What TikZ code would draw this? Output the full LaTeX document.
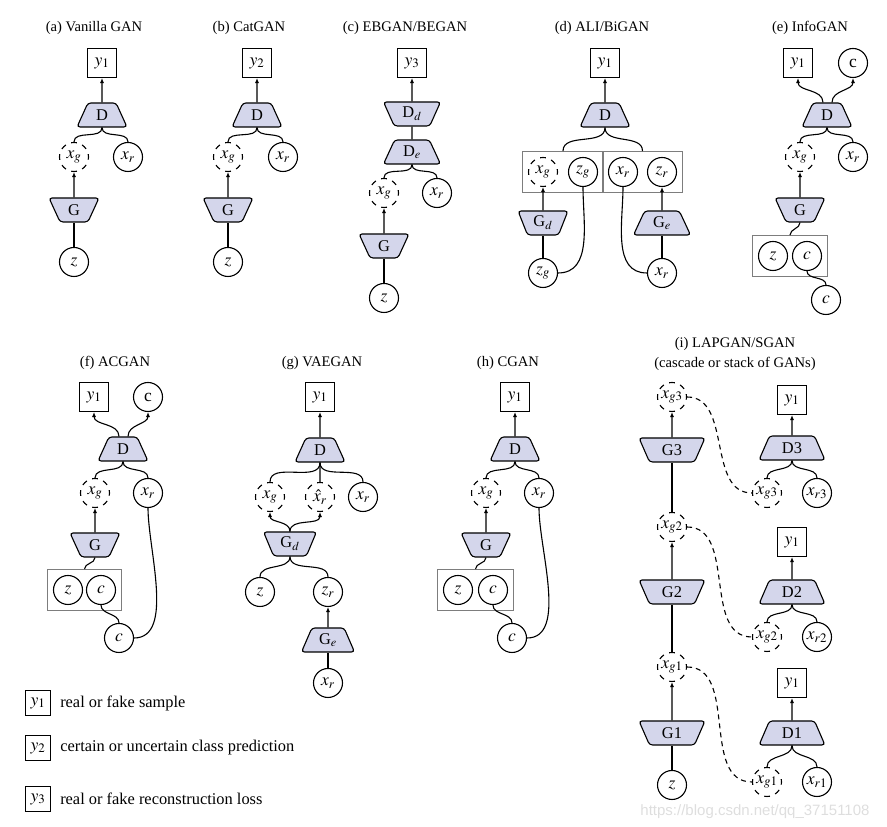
\documentclass[tikz,border=0pt]{standalone}
\usepackage{mathptmx}
\usepackage{fontspec}
\setmainfont{Liberation Serif}
\setsansfont{Liberation Sans}
\usetikzlibrary{shapes.geometric,arrows.meta,fit,positioning}

\definecolor{netfill}{RGB}{212,214,235}
\definecolor{grpgray}{RGB}{125,125,125}
\newcommand{\netfont}{\fontsize{16.4}{19}\selectfont}
\newcommand{\varfont}{\fontsize{17.5}{20}\selectfont}
\newcommand{\ttlfont}{\fontsize{14.6}{20}\selectfont}
\newcommand{\legfont}{\fontsize{16.4}{19}\selectfont}

\tikzset{
  var/.style={draw, circle, minimum size=29pt, inner sep=0pt, line width=1.1pt, font=\varfont},
  fake/.style={var, dash pattern=on 5.7pt off 5.69pt, dash phase=2.85pt},
  outbox/.style={draw, rectangle, minimum size=29pt, inner sep=0pt, line width=1.1pt, font=\varfont},
  disc/.style={draw, trapezium, trapezium left angle=67, trapezium right angle=67,
    trapezium stretches=true, minimum width=50pt, minimum height=24pt,
    fill=netfill, rounded corners=3pt, line width=1.1pt, inner sep=0pt, font=\netfont},
  gen/.style={disc, shape border rotate=180},
  grp/.style={draw=grpgray, rectangle, inner sep=5.5pt, line width=0.8pt},
  ttl/.style={font=\ttlfont, align=center},
  legtxt/.style={font=\legfont, inner sep=0pt},
  link/.style={line width=1.1pt},
  cascade/.style={link, dash pattern=on 5pt off 4pt},
}

\begin{document}
\fontsize{14.6}{17}\selectfont
\begin{tikzpicture}[x=1pt, y=1pt, >={Latex[length=5pt,width=4pt]}, font=\fontsize{14.6}{17}\selectfont]
        \useasboundingbox (0,0) rectangle (887,827);

        % (a)
        \node[ttl] (ta) at (94,799) {(a) Vanilla GAN};
        \node[outbox] (ya) at (102,764) {$y_1$};
        \node[disc] (Da) at (102,712) {D};
        \node[fake] (xga) at (74,670) {$x_g$};
        \node[var] (xra) at (128,670) {$x_r$};
        \node[gen] (Ga) at (74,617) {G};
        \node[var] (za) at (74,565) {$z$};

        \draw[link, ->] (Da) -- (ya);
        \draw[link] (Da.south) to[out=-90, in=90] (xga.north);
        \draw[link] (Da.south) to[out=-90, in=90] (xra.north);
        \draw[link, ->] (Ga) -- (xga);
        \draw[link] (za) -- (Ga);

        % (b)
        \node[ttl] (tb) at (249,799) {(b) CatGAN};
        \node[outbox] (yb) at (257,764) {$y_2$};
        \node[disc] (Db) at (257,712) {D};
        \node[fake] (xgb) at (228,670) {$x_g$};
        \node[var] (xrb) at (283,670) {$x_r$};
        \node[gen] (Gb) at (228,617) {G};
        \node[var] (zb) at (228,565) {$z$};

        \draw[link, ->] (Db) -- (yb);
        \draw[link] (Db.south) to[out=-90, in=90] (xgb.north);
        \draw[link] (Db.south) to[out=-90, in=90] (xrb.north);
        \draw[link, ->] (Gb) -- (xgb);
        \draw[link] (zb) -- (Gb);

        % (c)
        \node[ttl] (tc) at (405,799) {(c) EBGAN/BEGAN};
        \node[outbox] (yc) at (412,764) {$y_3$};
        \node[gen, minimum width=57pt] (Ddc) at (412,713) {D$_d$};
        \node[disc, minimum width=57pt] (Dec) at (412,675) {D$_e$};
        \node[fake] (xgc) at (384,634) {$x_g$};
        \node[var] (xrc) at (437,634) {$x_r$};
        \node[gen] (Gc) at (384,581) {G};
        \node[var] (zc) at (384,529) {$z$};

        \draw[link, ->] (Ddc) -- (yc);
        \draw[link] (Dec) -- (Ddc);
        \draw[link] (Dec.south) to[out=-90, in=90] (xgc.north);
        \draw[link] (Dec.south) to[out=-90, in=90] (xrc.north);
        \draw[link, ->] (Gc) -- (xgc);
        \draw[link] (zc) -- (Gc);

        % (d)
        \node[ttl] (td) at (602,799) {(d) ALI/BiGAN};
        \node[outbox] (yd) at (605,764) {$y_1$};
        \node[disc] (Dd) at (605,712) {D};
        \node[fake] (xgd) at (543,655) {$x_g$};
        \node[var] (zgd) at (583,655) {$z_g$};
        \node[var] (xrd) at (623,655) {$x_r$};
        \node[var] (zrd) at (662,655) {$z_r$};
        \node[grp, fit=(xgd)(zgd)] (pgd) {};
        \node[grp, fit=(xrd)(zrd)] (prd) {};
        \node[gen] (Gdd) at (543,604) {G$_d$};
        \node[var] (zgo) at (543,554) {$z_g$};
        \node[disc, minimum width=57pt] (Ged) at (662,604) {G$_e$};
        \node[var] (xro) at (662,554) {$x_r$};

        \draw[link, ->] (Dd) -- (yd);
        \draw[link] (Dd.south) to[out=-90, in=90] (pgd.north);
        \draw[link] (Dd.south) to[out=-90, in=90] (prd.north);
        \draw[link, ->] (Gdd) -- (xgd);
        \draw[link] (zgo) -- (Gdd);
        \draw[link] (zgo.east) to[out=0, in=-90] (zgd.south);
        \draw[link, ->] (Ged) -- (zrd);
        \draw[link] (xro) -- (Ged);
        \draw[link] (xro.west) to[out=180, in=-90] (xrd.south);

        % (e)
        \node[ttl] (te) at (810,799) {(e) InfoGAN};
        \node[outbox] (ye) at (798,764) {$y_1$};
        \node[var] (ce) at (853,764) {c};
        \node[disc] (De) at (827,712) {D};
        \node[fake] (xge) at (800,670) {$x_g$};
        \node[var] (xre) at (853,670) {$x_r$};
        \node[gen] (Ge) at (800,617) {G};
        \node[var] (ze) at (773,571) {$z$};
        \node[var] (cie) at (807,571) {$c$};
        \node[grp, fit=(ze)(cie)] (pe) {};
        \node[var] (coe) at (826,527) {$c$};

        \draw[link, ->] ([xshift=-4pt]De.north) to[out=90, in=-90] (ye.south);
        \draw[link, ->] ([xshift=5pt]De.north) to[out=90, in=-90] (ce.south);
        \draw[link] (De.south) to[out=-90, in=90] (xge.north);
        \draw[link] (De.south) to[out=-90, in=90] (xre.north);
        \draw[link, ->] (Ge) -- (xge);
        \draw[link] (Ge.south) to[out=-90, in=90] (pe.north);
        \draw[link] (cie.south) to[out=-90, in=90] (coe.north);

        % (f)
        \node[ttl] (tf) at (115,464) {(f) ACGAN};
        \node[outbox] (yf) at (94,430) {$y_1$};
        \node[var] (cf) at (148,430) {c};
        \node[disc] (Df) at (123,378) {D};
        \node[fake] (xgf) at (95,334) {$x_g$};
        \node[var] (xrf) at (148,334) {$x_r$};
        \node[gen] (Gf) at (95,282) {G};
        \node[var] (zf) at (68,237) {$z$};
        \node[var] (cif) at (101,237) {$c$};
        \node[grp, fit=(zf)(cif)] (pf) {};
        \node[var] (cof) at (119,189) {$c$};

        \draw[link, ->] ([xshift=-4pt]Df.north) to[out=90, in=-90] (yf.south);
        \draw[link, ->] ([xshift=5pt]Df.north) to[out=90, in=-90] (cf.south);
        \draw[link] (Df.south) to[out=-90, in=90] (xgf.north);
        \draw[link] (Df.south) to[out=-90, in=90] (xrf.north);
        \draw[link, ->] (Gf) -- (xgf);
        \draw[link] (Gf.south) to[out=-90, in=90] (pf.north);
        \draw[link] (cif.south) to[out=-90, in=90] (cof.north);
        \draw[link] (xrf.south) to[out=-90, in=0, looseness=0.8] (cof.east);

        % (g)
        \node[ttl] (tg) at (322,464) {(g) VAEGAN};
        \node[outbox] (yg) at (320,430) {$y_1$};
        \node[disc] (Dg) at (320,377) {D};
        \node[fake] (xgg) at (270,330) {$x_g$};
        \node[fake] (xhg) at (320,330) {$\hat{x}_r$};
        \node[var] (xrg) at (363,330) {$x_r$};
        \node[gen, minimum width=53pt] (Gdg) at (290,283) {G$_d$};
        \node[var] (zg) at (260,235) {$z$};
        \node[var] (zrg) at (328,235) {$z_r$};
        \node[disc, minimum width=53pt] (Geg) at (328,187) {G$_e$};
        \node[var] (xrog) at (328,144) {$x_r$};

        \draw[link, ->] (Dg) -- (yg);
        \draw[link] (Dg.south) to[out=-90, in=90] (xgg.north);
        \draw[link] (Dg.south) to[out=-90, in=90] (xhg.north);
        \draw[link] (Dg.south) to[out=-90, in=90] (xrg.north);
        \draw[link, ->] (Gdg.north) to[out=90, in=-90] (xgg.south);
        \draw[link, ->] (Gdg.north) to[out=90, in=-90] (xhg.south);
        \draw[link] (Gdg.south) to[out=-90, in=90] (zg.north);
        \draw[link] (Gdg.south) to[out=-90, in=90] (zrg.north);
        \draw[link, ->] (Geg) -- (zrg);
        \draw[link] (xrog) -- (Geg);

        % (h)
        \node[ttl] (th) at (508,464) {(h) CGAN};
        \node[outbox] (yh) at (515,430) {$y_1$};
        \node[disc] (Dh) at (515,378) {D};
        \node[fake] (xgh) at (486,334) {$x_g$};
        \node[var] (xrh) at (539,334) {$x_r$};
        \node[gen] (Gh) at (486,282) {G};
        \node[var] (zh) at (458,237) {$z$};
        \node[var] (cih) at (493,237) {$c$};
        \node[grp, fit=(zh)(cih)] (ph) {};
        \node[var] (coh) at (512,189) {$c$};

        \draw[link, ->] (Dh) -- (yh);
        \draw[link] (Dh.south) to[out=-90, in=90] (xgh.north);
        \draw[link] (Dh.south) to[out=-90, in=90] (xrh.north);
        \draw[link, ->] (Gh) -- (xgh);
        \draw[link] (Gh.south) to[out=-90, in=90] (ph.north);
        \draw[link] (cih.south) to[out=-90, in=90] (coh.north);
        \draw[link] (xrh.south) to[out=-90, in=0, looseness=0.8] (coh.east);

        % (i)
        \node[ttl] (ti) at (735,473) {(i) LAPGAN/SGAN\\(cascade or stack of GANs)};
        \node[fake] (xg3) at (672,430) {$x_{g3}$};
        \node[gen, minimum width=66pt] (G3) at (672,377) {G3};
        \node[fake] (xg2) at (672,300) {$x_{g2}$};
        \node[gen, minimum width=66pt] (G2) at (672,235) {G2};
        \node[fake] (xg1) at (672,160) {$x_{g1}$};
        \node[gen, minimum width=66pt] (G1) at (672,94) {G1};
        \node[var] (zi) at (672,42) {$z$};

        \node[outbox] (yi3) at (792,427) {$y_1$};
        \node[disc, minimum width=66pt] (D3) at (792,379) {D3};
        \node[fake] (xg3r) at (767,334) {$x_{g3}$};
        \node[var] (xr3) at (817,334) {$x_{r3}$};
        \node[outbox] (yi2) at (792,285) {$y_1$};
        \node[disc, minimum width=66pt] (D2) at (792,235) {D2};
        \node[fake] (xg2r) at (767,190) {$x_{g2}$};
        \node[var] (xr2) at (817,190) {$x_{r2}$};
        \node[outbox] (yi1) at (792,144) {$y_1$};
        \node[disc, minimum width=66pt] (D1) at (792,94) {D1};
        \node[fake] (xg1r) at (767,45) {$x_{g1}$};
        \node[var] (xr1) at (817,45) {$x_{r1}$};

        \draw[link, ->] (G3) -- (xg3);
        \draw[link] (xg2) -- (G3);
        \draw[link, ->] (G2) -- (xg2);
        \draw[link] (xg1) -- (G2);
        \draw[link, ->] (G1) -- (xg1);
        \draw[link] (zi) -- (G1);

        \draw[cascade] (xg3.east) to[out=0, in=180] (xg3r.west);
        \draw[cascade] (xg2.east) to[out=0, in=180] (xg2r.west);
        \draw[cascade] (xg1.east) to[out=0, in=180] (xg1r.west);

        \draw[link, ->] (D3) -- (yi3);
        \draw[link] (D3.south) to[out=-90, in=90] (xg3r.north);
        \draw[link] (D3.south) to[out=-90, in=90] (xr3.north);
        \draw[link, ->] (D2) -- (yi2);
        \draw[link] (D2.south) to[out=-90, in=90] (xg2r.north);
        \draw[link] (D2.south) to[out=-90, in=90] (xr2.north);
        \draw[link, ->] (D1) -- (yi1);
        \draw[link] (D1.south) to[out=-90, in=90] (xg1r.north);
        \draw[link] (D1.south) to[out=-90, in=90] (xr1.north);

        % legend
        \node[outbox, minimum size=25pt] (l1) at (38,124) {$y_1$};
        \node[legtxt, right=9pt of l1] (d1) {real or fake sample};
        \node[outbox, minimum size=25pt] (l2) at (38,79) {$y_2$};
        \node[legtxt, right=9pt of l2] (d2) {certain or uncertain class prediction};
        \node[outbox, minimum size=25pt] (l3) at (38,28) {$y_3$};
        \node[legtxt, right=9pt of l3] (d3) {real or fake reconstruction loss};

        \node[font=\sffamily\fontsize{15}{17}\selectfont, text=black!13] (wm) at (755,15) {https://blog.csdn.net/qq\_37151108};
    \end{tikzpicture}
\end{document}
